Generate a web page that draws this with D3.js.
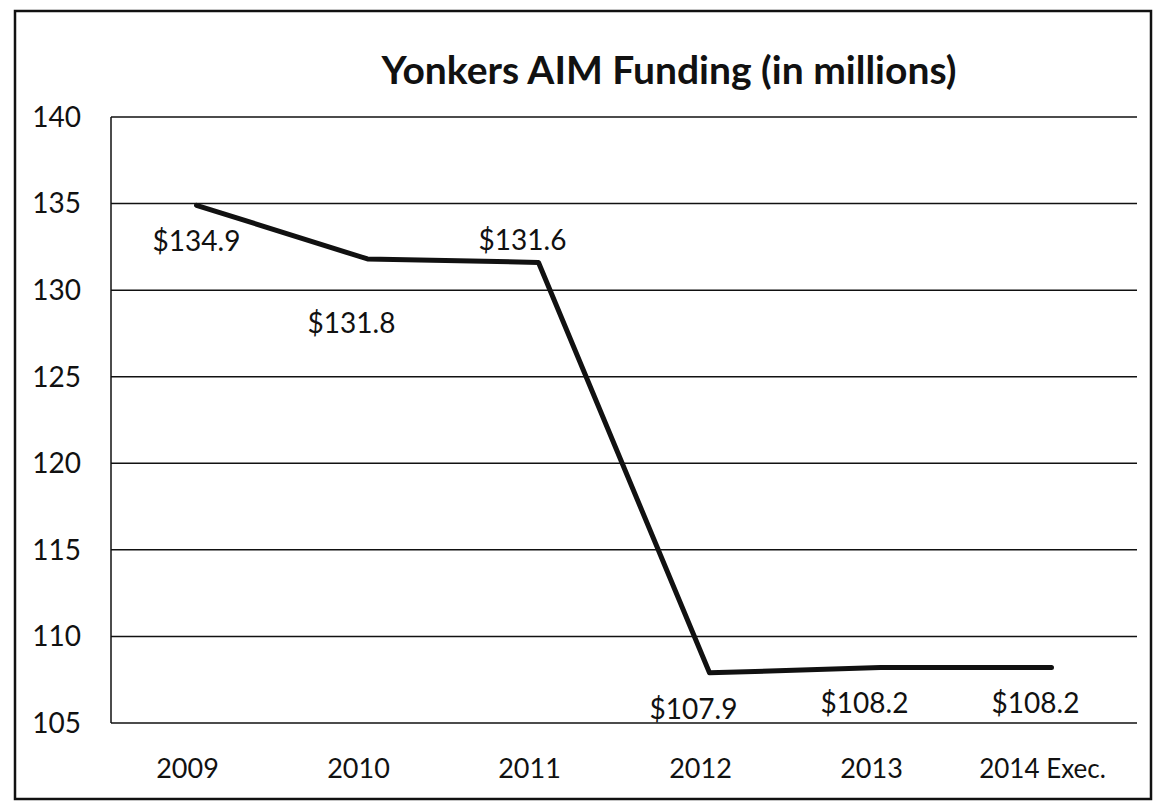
<!DOCTYPE html>
<html>
<head>
<meta charset="utf-8">
<script src="https://cdn.jsdelivr.net/npm/d3@7"></script>
<style>
  body { margin: 0; background: #fff; }
  text { font-family: Lato, "Open Sans", sans-serif; fill: #111; }
</style>
</head>
<body>
<div class="main"></div>
<script>
const years = ["2009", "2010", "2011", "2012", "2013", "2014 Exec."];
const funding = [134.9, 131.8, 131.6, 107.9, 108.2, 108.2];
const valueLabels = ["$134.9", "$131.8", "$131.6", "$107.9", "$108.2", "$108.2"];
const yTicks = [105, 110, 115, 120, 125, 130, 135, 140];

const width = 1155;
const height = 805;
const margin = { top: 117, right: 18, bottom: 82, left: 111 };

// label placement: below, except 2011 which sits above
const labelBelow = [true, true, false, true, true, true];

const svg = d3.select(".main")
  .append("svg")
    .attr("width", width)
    .attr("height", height);

// outer frame
svg.append("rect")
  .attr("x", 15)
  .attr("y", 11)
  .attr("width", 1136)
  .attr("height", 788)
  .attr("fill", "none")
  .attr("stroke", "#111")
  .attr("stroke-width", 2.5);

const xScale = d3.scaleBand()
  .domain(years)
  .range([margin.left, width - margin.right]);

const yScale = d3.scaleLinear()
  .domain([105, 140])
  .range([height - margin.bottom, margin.top]);

// gridlines
svg.append("g")
  .selectAll("line")
  .data(yTicks)
  .join("line")
    .attr("x1", margin.left)
    .attr("x2", width - margin.right)
    .attr("y1", (d) => yScale(d))
    .attr("y2", (d) => yScale(d))
    .attr("stroke", "#111")
    .attr("stroke-width", 1.5);

// y axis line
svg.append("line")
  .attr("x1", margin.left)
  .attr("x2", margin.left)
  .attr("y1", yScale(140))
  .attr("y2", yScale(105))
  .attr("stroke", "#111")
  .attr("stroke-width", 1.5);

// y tick labels
svg.append("g")
  .selectAll("text")
  .data(yTicks)
  .join("text")
    .attr("x", 81)
    .attr("y", (d) => yScale(d))
    .attr("dy", "0.35em")
    .attr("text-anchor", "end")
    .attr("font-size", "28px")
    .text((d) => d);

// x labels
svg.append("g")
  .selectAll("text")
  .data(years)
  .join("text")
    .attr("x", (d) => xScale(d) + xScale.bandwidth() / 2 - 9)
    .attr("y", 769)
    .attr("dy", "0.35em")
    .attr("text-anchor", "middle")
    .attr("font-size", (d) => d.length > 4 ? "26px" : "27px")
    .text((d) => d);

// the line
const line = d3.line()
  .x((d, i) => xScale(years[i]) + xScale.bandwidth() / 2)
  .y((d) => yScale(d));

svg.append("path")
  .datum(funding)
  .attr("d", line)
  .attr("fill", "none")
  .attr("stroke", "#111")
  .attr("stroke-width", 5)
  .attr("stroke-linejoin", "round")
  .attr("stroke-linecap", "round");

// value labels
svg.append("g")
  .selectAll("text")
  .data(funding)
  .join("text")
    .attr("x", (d, i) => xScale(years[i]) + xScale.bandwidth() / 2 - (i === 0 ? 0 : 16))
    .attr("y", (d, i) => yScale(d) + (labelBelow[i] ? (i === 1 ? 64 : 36) : -22))
    .attr("dy", "0.35em")
    .attr("text-anchor", "middle")
    .attr("font-size", "28px")
    .text((d, i) => valueLabels[i]);

// title
svg.append("text")
  .attr("x", 669)
  .attr("y", 70)
  .attr("dy", "0.35em")
  .attr("text-anchor", "middle")
  .attr("font-size", "39px")
  .attr("font-weight", "bold")
  .text("Yonkers AIM Funding (in millions)");
</script>
</body>
</html>
